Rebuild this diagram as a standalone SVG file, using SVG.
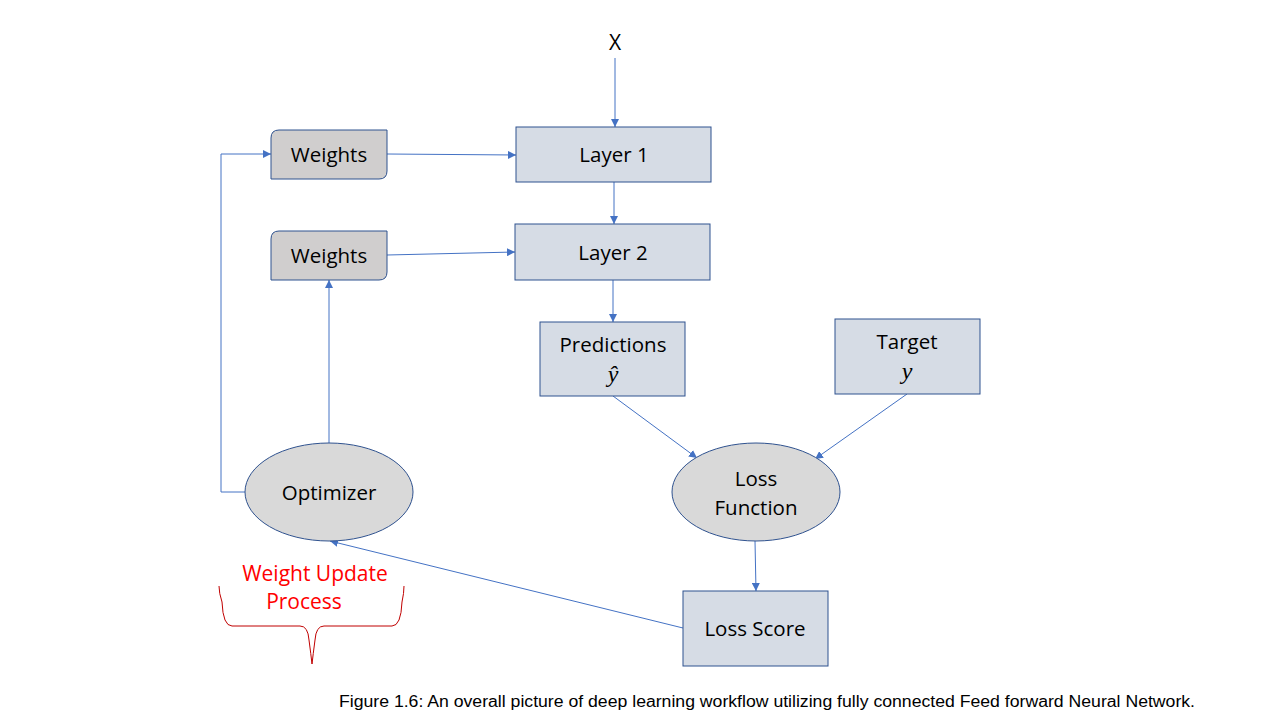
<svg xmlns="http://www.w3.org/2000/svg" width="1280" height="720" viewBox="0 0 1280 720">
<style>
.box{fill:#D6DCE5;stroke:#2F528F;stroke-width:1}
.wt{fill:#D0CECE;stroke:#2F528F;stroke-width:1}
.ell{fill:#D9D9D9;stroke:#2F528F;stroke-width:1}
.t{font-family:"Open Sans","Liberation Sans",sans-serif;font-size:20.5px;fill:#000;text-anchor:middle}
.m{font-family:"Liberation Serif",serif;font-style:italic;font-size:24px;fill:#000;text-anchor:middle}
.red{font-family:"Open Sans","Liberation Sans",sans-serif;font-size:21px;fill:#FF0000;text-anchor:middle}
.c{fill:none;stroke:#4472C4;stroke-width:1}
</style>
<defs>
<marker id="ah" viewBox="0 0 10 10" refX="10" refY="5" markerWidth="8" markerHeight="8" markerUnits="userSpaceOnUse" orient="auto">
<path d="M0,0 L10,5 L0,10 z" fill="#4472C4"/>
</marker>
</defs>
<rect width="1280" height="720" fill="#fff"/>
<g id="connectors">
<line class="c" x1="615" y1="58" x2="615" y2="127" marker-end="url(#ah)"/>
<line class="c" x1="387" y1="154" x2="516" y2="155" marker-end="url(#ah)"/>
<line class="c" x1="614" y1="182" x2="614" y2="224" marker-end="url(#ah)"/>
<line class="c" x1="387" y1="255" x2="515" y2="252" marker-end="url(#ah)"/>
<line class="c" x1="613" y1="280" x2="613" y2="322" marker-end="url(#ah)"/>
<line class="c" x1="613" y1="396" x2="697" y2="458" marker-end="url(#ah)"/>
<line class="c" x1="907" y1="394" x2="815" y2="459" marker-end="url(#ah)"/>
<line class="c" x1="755" y1="541" x2="756" y2="591" marker-end="url(#ah)"/>
<line class="c" x1="683" y1="628" x2="330" y2="541" marker-end="url(#ah)"/>
<line class="c" x1="329" y1="443" x2="329" y2="280" marker-end="url(#ah)"/>
<polyline class="c" points="245,492 221,492 221,154 271,154" marker-end="url(#ah)"/>
</g>
<g id="x-label"><text class="t" x="615" y="50" style="font-size:21px">X</text></g>
<g id="weights1">
<path class="wt" d="M279,130 H387 V171 Q387,179 379,179 H271 V138 Q271,130 279,130 Z"/>
<text class="t" x="329" y="162">Weights</text>
</g>
<g id="weights2">
<path class="wt" d="M279,231 H387 V272 Q387,280 379,280 H271 V239 Q271,231 279,231 Z"/>
<text class="t" x="329" y="263">Weights</text>
</g>
<g id="layer1">
<rect class="box" x="516" y="127" width="195" height="55"/>
<text class="t" x="614" y="162">Layer 1</text>
</g>
<g id="layer2">
<rect class="box" x="515" y="224" width="195" height="56"/>
<text class="t" x="613" y="260">Layer 2</text>
</g>
<g id="predictions">
<rect class="box" x="540" y="322" width="145" height="74"/>
<text class="t" x="613" y="352">Predictions</text>
<text class="m" x="613" y="382">ŷ</text>
</g>
<g id="target">
<rect class="box" x="835" y="319" width="145" height="75"/>
<text class="t" x="907" y="349">Target</text>
<text class="m" x="907" y="379">y</text>
</g>
<g id="loss-function">
<ellipse class="ell" cx="756" cy="492" rx="84" ry="49"/>
<text class="t" x="756" y="486">Loss</text>
<text class="t" x="756" y="515">Function</text>
</g>
<g id="optimizer">
<ellipse class="ell" cx="329" cy="492" rx="84" ry="49"/>
<text class="t" x="329" y="500">Optimizer</text>
</g>
<g id="loss-score">
<rect class="box" x="683" y="591" width="145" height="75"/>
<text class="t" x="755" y="636">Loss Score</text>
</g>
<g id="weight-update">
<text class="red" x="315" y="581">Weight Update</text>
<text class="red" x="304" y="609">Process</text>
<path d="M219,586 Q219,593 222,602 Q223,626 232,626 H300 Q308,626 309,640 Q311,655 312,664 Q313,655 315,640 Q316,626 324,626 H392 Q401,626 402,602 Q404,593 404,586" fill="none" stroke="#C00000" stroke-width="1"/>
</g>
<g id="caption">
<text x="339" y="707" font-family="Liberation Sans Narrow, Liberation Sans, sans-serif" font-size="16" textLength="856" lengthAdjust="spacingAndGlyphs" fill="#000">Figure 1.6: An overall picture of deep learning workflow utilizing fully connected Feed forward Neural Network.</text>
</g>
</svg>
